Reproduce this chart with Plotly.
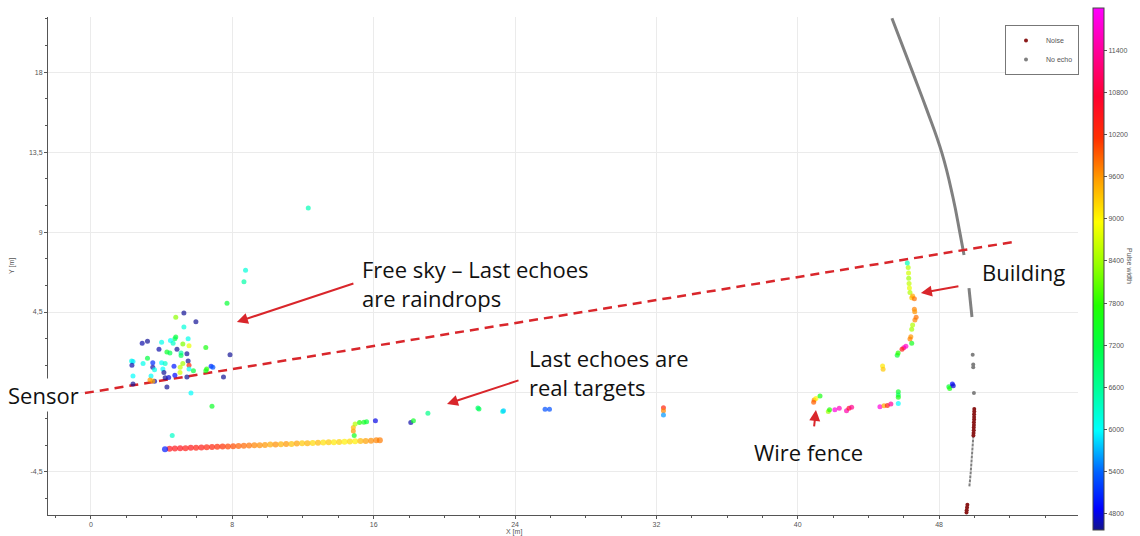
import plotly.graph_objects as go

# ---------------- data ----------------
# raindrops / free-sky last echoes
sky_x = [7.7, 5.26, 4.8, 5.94, 5.26, 4.8, 4.75, 5.5, 2.9, 3.2, 4.0, 4.5, 4.65, 5.2, 5.55, 3.85, 4.87, 6.5,
         4.3, 4.47, 5.1, 5.43, 5.1, 7.87, 3.2, 3.5, 2.3, 2.38, 2.32, 2.95, 4.0, 4.2, 4.7, 5.5, 5.55, 5.2,
         5.05, 4.07, 3.5, 3.6, 4.75, 4.13, 5.55, 5.8, 5.04, 6.8, 6.9, 6.55, 6.5, 7.5, 2.38, 3.6, 3.4, 4.2,
         4.4, 5.43, 3.34, 3.5, 4.3, 2.38, 5.66, 6.85, 8.66, 8.75, 12.3, 4.6]
sky_y = [5.0, 4.45, 4.2, 3.95, 3.66, 3.1, 3.0, 3.0, 2.75, 2.85, 2.8, 2.9, 2.75, 2.7, 2.6, 2.4, 2.4, 2.5,
         2.25, 2.2, 2.2, 2.15, 2.05, 2.1, 1.9, 1.65, 1.75, 1.72, 1.5, 1.6, 1.65, 1.6, 1.45, 1.75, 1.5, 1.6,
         1.4, 1.3, 1.4, 1.25, 0.95, 1.1, 1.3, 1.2, 1.1, 1.45, 1.4, 1.3, 1.2, 0.85, 0.9, 0.6, 0.9, 0.8,
         0.82, 0.85, 0.67, 0.62, 0.28, 0.45, -0.05, -0.8, 6.2, 6.85, 10.35, -2.45]
sky_pw = [7300, 4600, 8300, 4600, 6200, 7300, 7000, 6100, 4650, 4600, 6100, 6000, 6300, 8200, 8800, 4650, 4600, 7600,
          7400, 7100, 6500, 4600, 7000, 4600, 7200, 5100, 6100, 5900, 4650, 6100, 6000, 6300, 5000, 4600, 10300, 8400,
          8600, 6000, 4650, 6100, 4900, 4600, 6000, 7200, 8700, 5100, 5300, 7800, 7500, 4600, 6000, 4650, 6000, 4600,
          4750, 4600, 9600, 9500, 4600, 4600, 6000, 7400, 6500, 6200, 6400, 6300]

# long wall (real targets, last echoes)
wall_x = [4.45, 4.75, 5.05, 5.35, 5.65, 5.95, 6.25, 6.55, 6.85, 7.15, 7.45, 7.75, 8.05, 8.35, 8.65, 8.95,
          9.25, 9.55, 9.85, 10.15, 10.45, 10.75, 11.05, 11.35, 11.65, 11.95, 12.25, 12.55, 12.85, 13.15,
          13.45, 13.75, 14.05, 14.35, 14.65, 14.95, 15.25, 15.55, 15.85, 16.15, 16.35, 4.19]
wall_y = [-3.19, -3.18, -3.17, -3.16, -3.14, -3.13, -3.12, -3.11, -3.10, -3.08, -3.07, -3.06, -3.05, -3.04,
          -3.02, -3.01, -3.00, -2.99, -2.98, -2.96, -2.95, -2.94, -2.93, -2.92, -2.90, -2.89, -2.88, -2.87,
          -2.86, -2.84, -2.83, -2.82, -2.81, -2.80, -2.78, -2.77, -2.76, -2.75, -2.74, -2.72, -2.71, -3.22]
wall_pw = [10500, 10450, 10500, 10400, 10450, 10350, 10400, 10300, 10300, 10200, 10150, 10050, 10000, 9900,
           9850, 9800, 9700, 9650, 9600, 9500, 9650, 9450, 9600, 9350, 9550, 9300, 9450, 9200, 9400, 9150,
           9300, 9100, 9250, 9050, 9200, 9050, 9400, 9550, 9650, 9700, 9750, 5000]

# hook, posts and isolated targets along the line of sight
tgt_x = [14.9, 14.85, 14.85, 14.95, 15.2, 15.45, 15.6, 16.1, 18.1, 18.25, 19.07, 21.96, 21.9,
         23.3, 23.35, 25.7, 25.95, 32.4, 32.4, 32.4]
tgt_y = [-2.45, -2.2, -2.0, -1.8, -1.72, -1.7, -1.68, -1.62, -1.72, -1.62, -1.2, -0.95, -0.9,
         -1.1, -1.05, -0.97, -0.97, -0.88, -1.05, -1.3]
tgt_pw = [7500, 9600, 9400, 8500, 7700, 7500, 7300, 4800, 4650, 7400, 6700, 7100, 6900,
          6200, 5800, 5300, 5300, 10300, 9700, 5600]

# building, wire fence and surroundings
bld_x = [46.25, 46.27, 46.28, 46.3, 46.32, 46.35, 46.2, 46.45, 46.5, 46.6, 46.6, 46.62, 46.63, 46.7,
         46.5, 46.45, 46.4, 46.35, 46.45, 46.12, 46.0, 45.9, 45.63, 45.68, 44.8, 44.83,
         45.69, 45.69, 45.69, 45.69, 44.65, 44.88, 45.07, 45.27,
         40.93, 41.03, 41.26, 40.9, 41.73, 41.8, 42.1, 42.35, 42.76, 42.9, 43.05,
         48.55, 48.6, 48.75, 48.8]
bld_y = [7.0, 6.7, 6.4, 6.1, 5.85, 5.6, 7.26, 5.3, 5.4, 5.25, 4.65, 4.52, 4.05, 4.2,
         3.77, 3.53, 3.11, 2.98, 2.75, 2.58, 2.49, 2.4, 2.07, 2.2, 1.46, 1.28,
         0.02, -0.17, -0.3, -0.64, -0.83, -0.77, -0.76, -0.68,
         -0.45, -0.36, -0.22, -0.58, -1.1, -1.0, -1.0, -0.92, -1.05, -0.92, -0.86,
         0.3, 0.2, 0.45, 0.35]
bld_pw = [8500, 8700, 8400, 8600, 8800, 8500, 6400, 9300, 9500, 9800, 9700, 9600, 9700, 9800,
          8500, 8400, 9600, 9700, 7500, 11700, 11500, 10400, 7300, 7800, 9100, 9300,
          7400, 7000, 7600, 6000, 11800, 9500, 10300, 11400,
          9700, 9000, 7600, 9900, 8400, 7700, 11800, 11600, 11500, 10600, 11300,
          7300, 7600, 4900, 4750]

# noise echoes (dark red) on the max-range arc
noise_x = [49.99, 49.99, 49.98, 49.98, 49.98, 49.97, 49.97, 49.96, 49.96, 49.95, 49.94,
           49.6, 49.58, 49.56, 49.55]
noise_y = [-0.95, -1.1, -1.25, -1.4, -1.55, -1.7, -1.85, -2.0, -2.15, -2.3, -2.45,
           -6.35, -6.5, -6.65, -6.78]

# no-echo returns (grey) on the 50 m max-range arc
arc_top_x = [45.33, 46.52, 47.31, 48.16, 48.78, 49.18, 49.41]
arc_top_y = [21.03, 17.94, 15.86, 13.44, 10.97, 8.94, 7.71]
arc_mid_x = [49.69, 49.78, 49.86]
arc_mid_y = [5.85, 5.05, 4.22]
arc_low_x = [49.94, 49.91, 49.87, 49.83, 49.79, 49.75, 49.71]
arc_low_y = [-2.45, -3.0, -3.5, -4.0, -4.5, -4.95, -5.34]
noecho_x = [49.9, 49.93, 49.93, 49.97]
noecho_y = [2.1, 1.55, 1.4, -0.05]

# dashed line of sight from sensor
los_x = [-0.34, 52.18]
los_y = [-0.06, 8.44]

x_ticks = [0, 8, 16, 24, 32, 40, 48]
x_ticktext = ["0", "8", "16", "24", "32", "40", "48"]
y_ticks = [-4.5, 0, 4.5, 9, 13.5, 18]
y_ticktext = ["-4,5", "", "4,5", "9", "13,5", "18"]
cb_ticks = [4800, 5400, 6000, 6600, 7200, 7800, 8400, 9000, 9600, 10200, 10800, 11400]
cb_ticktext = ["4800", "5400", "6000", "6600", "7200", "7800", "8400", "9000", "9600", "10200", "10800", "11400"]

PW_MIN, PW_MAX = 4570, 12000

colorscale = [
    [0.0, "#14148a"], [0.04, "#0000ff"], [0.11, "#0060ff"], [0.19, "#00ffff"],
    [0.27, "#00ff99"], [0.35, "#00ff44"], [0.43, "#22ff00"], [0.51, "#99ff00"],
    [0.59, "#ffff00"], [0.67, "#ffa000"], [0.75, "#ff3000"], [0.83, "#ff0030"],
    [0.91, "#ff0090"], [1.0, "#ff00ff"],
]

GREY = "#808080"
NOISE = "#8b1a1a"
RED = "#d9262b"

# plot-area geometry in pixels
L, R, T, B = 48, 1078, 17, 515
W, H = R - L, B - T


def px(xp):
    return (xp - L) / W


def py(yp):
    return (B - yp) / H


fig = go.Figure()

# no-echo arc segments
fig.add_trace(go.Scatter(x=arc_top_x, y=arc_top_y, mode="lines",
                         line=dict(color=GREY, width=3, shape="spline", smoothing=1.3),
                         showlegend=False, hoverinfo="skip"))
fig.add_trace(go.Scatter(x=arc_mid_x, y=arc_mid_y, mode="lines", line=dict(color=GREY, width=3),
                         showlegend=False, hoverinfo="skip"))
fig.add_trace(go.Scatter(x=arc_low_x, y=arc_low_y, mode="lines", line=dict(color=GREY, width=2, dash="3px,1px"),
                         showlegend=False, hoverinfo="skip"))
fig.add_trace(go.Scatter(x=noecho_x, y=noecho_y, mode="markers", name="No echo",
                         marker=dict(color=GREY, size=4)))
fig.add_trace(go.Scatter(x=noise_x, y=noise_y, mode="markers", name="Noise",
                         marker=dict(color=NOISE, size=4)))

# line of sight
fig.add_trace(go.Scatter(x=los_x, y=los_y, mode="lines", line=dict(color=RED, width=2.5, dash="9px,6px"),
                         showlegend=False, hoverinfo="skip"))

# pulse-width coloured echoes
all_x = sky_x + wall_x + tgt_x + bld_x
all_y = sky_y + wall_y + tgt_y + bld_y
all_pw = sky_pw + wall_pw + tgt_pw + bld_pw
sizes = [5] * len(sky_x) + [6] * len(wall_x) + [5] * len(tgt_x) + [5] * len(bld_x)
fig.add_trace(go.Scatter(
    x=all_x, y=all_y, mode="markers", showlegend=False,
    marker=dict(size=sizes, color=all_pw, colorscale=colorscale, cmin=PW_MIN, cmax=PW_MAX,
                line=dict(width=0),
                colorbar=dict(
                    thickness=11, len=py(8) - py(530), lenmode="fraction", y=py(530), yanchor="bottom",
                    ypad=0, x=px(1093), xanchor="left", xpad=0, outlinecolor="#444", outlinewidth=1,
                    tickmode="array", tickvals=cb_ticks, ticktext=cb_ticktext, ticks="outside", ticklen=3,
                    tickcolor="#555", tickfont=dict(family="Liberation Sans", size=7, color="#555"),
                )),
))

# arrows
arrow_specs = [
    (8.26, 3.94, 118, -39),
    (20.15, -0.67, 73, -24),
    (46.97, 5.57, 39, -7),
    (41.03, -1.01, -2, 18),
]
for x, y, ax, ay in arrow_specs:
    fig.add_annotation(x=x, y=y, ax=ax, ay=ay, xref="x", yref="y", text="", showarrow=True,
                       arrowhead=2, arrowsize=1.1, arrowwidth=2, arrowcolor=RED)

label_font = dict(family="Open Sans", size=22, color="#111")
labels = [
    (15.22, 6.1, "Free sky – Last echoes<br>are raindrops"),
    (24.67, 1.12, "Last echoes are<br>real targets"),
    (50.3, 6.75, "Building"),
    (37.4, -3.37, "Wire fence"),
]
for x, y, t in labels:
    fig.add_annotation(x=x, y=y, xref="x", yref="y", text=t, showarrow=False, xanchor="left",
                       yanchor="middle", align="left", font=label_font)
fig.add_annotation(x=px(6), y=py(395), xref="paper", yref="paper", text="Sensor", showarrow=False,
                   xanchor="left", yanchor="middle", font=label_font, bgcolor="white")

small = dict(family="Liberation Sans", size=7, color="#555")
fig.add_annotation(x=px(514), y=py(532), xref="paper", yref="paper", text="X [m]",
                   showarrow=False, font=small, yanchor="middle")
fig.add_annotation(x=px(12), y=0.5, xref="paper", yref="paper", text="Y [m]", textangle=-90,
                   showarrow=False, font=small, xanchor="center")
fig.add_annotation(x=px(1130), y=0.5, xref="paper", yref="paper", text="Pulse width", textangle=90,
                   showarrow=False, font=small, xanchor="center")

axis_common = dict(showline=True, linecolor="#555", linewidth=1, ticks="outside", ticklen=3, tickcolor="#555",
                   showgrid=True, gridcolor="#ebebeb", gridwidth=1, zeroline=False,
                   tickfont=dict(family="Liberation Sans", size=7, color="#555"))

fig.update_layout(
    width=1140, height=536,
    margin=dict(l=L, r=1140 - R, t=T, b=536 - B, autoexpand=False),
    paper_bgcolor="white", plot_bgcolor="white",
    xaxis=dict(range=[-2.43, 55.86], tickmode="array", tickvals=x_ticks, ticktext=x_ticktext,
               minor=dict(tickmode="linear", tick0=0, dtick=2, ticks="outside", ticklen=2, tickcolor="#555",
                          showgrid=False), **axis_common),
    yaxis=dict(range=[-6.92, 21.1], tickmode="array", tickvals=y_ticks, ticktext=y_ticktext,
               minor=dict(tickmode="linear", tick0=0, dtick=1.5, ticks="outside", ticklen=2, tickcolor="#555",
                          showgrid=False), **axis_common),
    legend=dict(x=px(1005), y=py(25), xanchor="left", yanchor="top",
                bordercolor="#777", borderwidth=1, bgcolor="white",
                font=dict(family="Liberation Sans", size=7, color="#555"), itemwidth=30,
                traceorder="reversed", tracegroupgap=0),
    showlegend=True,
)

fig.write_html(
    "out.html",
    config={"displayModeBar": False},
    post_script="document.body.style.margin='0';document.body.style.overflow='hidden';",
)
